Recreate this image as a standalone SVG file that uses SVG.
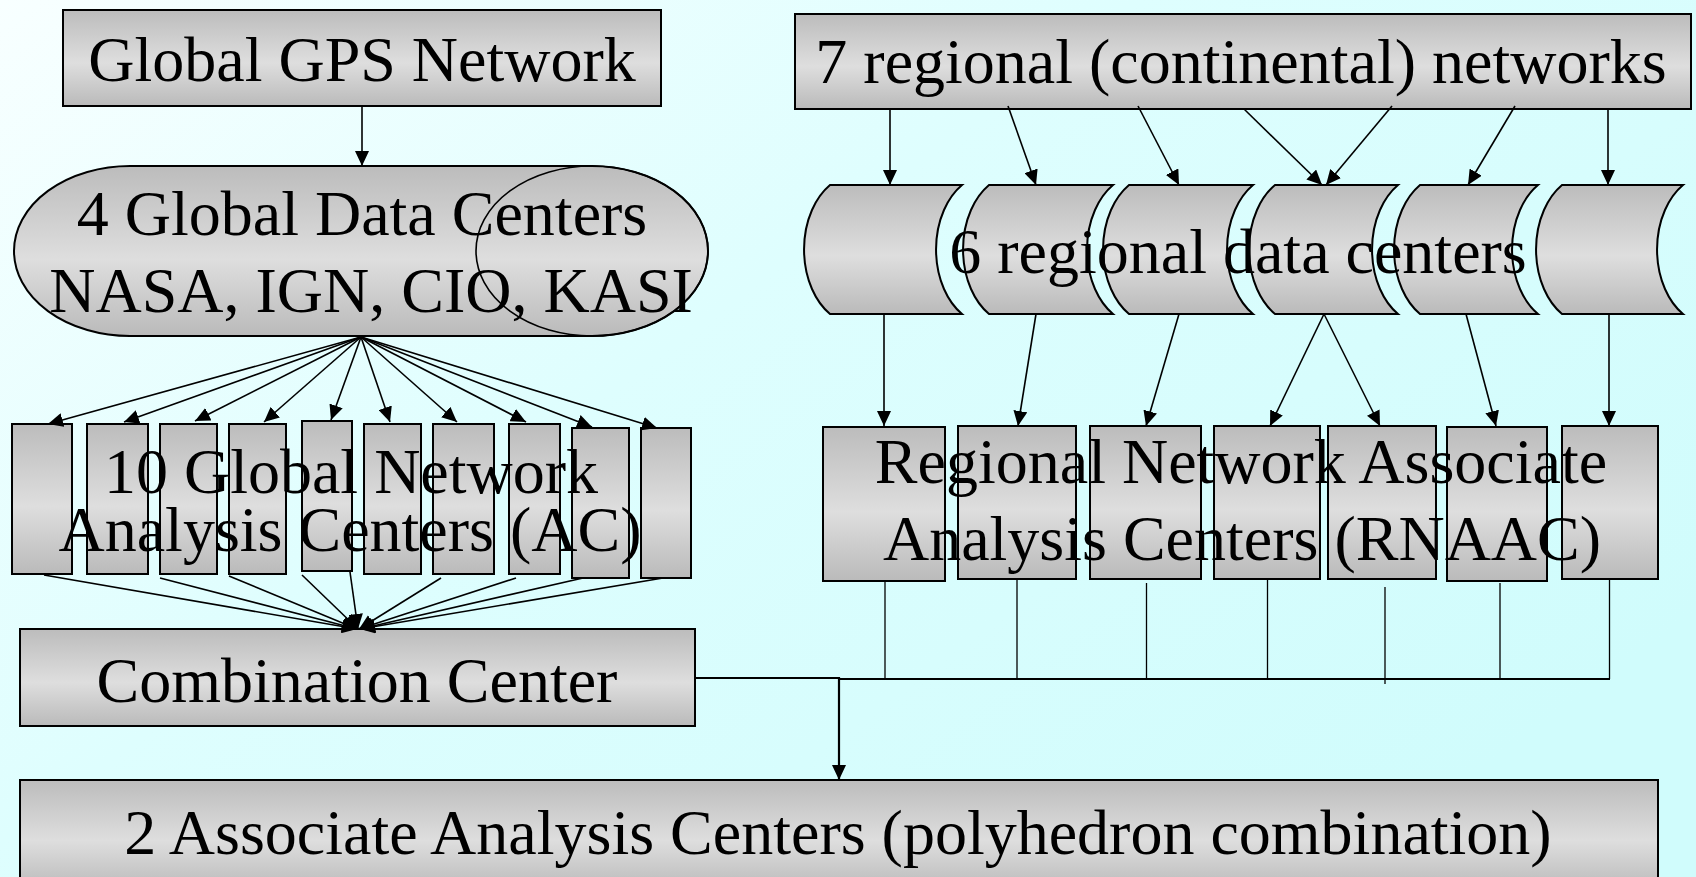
<svg xmlns="http://www.w3.org/2000/svg" width="1696" height="877" viewBox="0 0 1696 877">
  <defs>
    <linearGradient id="bg" x1="0" y1="0" x2="1" y2="0.7">
      <stop offset="0" stop-color="#f8ffff"/>
      <stop offset="0.45" stop-color="#defefe"/>
      <stop offset="1" stop-color="#d0fcfc"/>
    </linearGradient>
    <linearGradient id="metal" x1="0" y1="0" x2="0" y2="1">
      <stop offset="0" stop-color="#bcbcbc"/>
      <stop offset="0.55" stop-color="#dedede"/>
      <stop offset="1" stop-color="#bababa"/>
    </linearGradient>
    <marker id="arrow" markerUnits="userSpaceOnUse" markerWidth="15" markerHeight="14" refX="15" refY="7" orient="auto" viewBox="0 0 15 14">
      <path d="M0,0 L15,7 L0,14 Z" fill="#000"/>
    </marker>
    <style>
      .box { fill: url(#metal); stroke: #000; stroke-width: 2; }
      .outline { fill: none; stroke: #000; stroke-width: 1.6; }
      .lbl { font-family: "Liberation Serif", "Times New Roman", serif; font-size: 64px; fill: #000; text-anchor: middle; }
      .edge { fill: none; stroke: #000; stroke-width: 1.6; }
      .arr { marker-end: url(#arrow); }
      .thin { fill: none; stroke: #000; stroke-width: 1.3; }
      .bus { fill: none; stroke: #000; stroke-width: 2.2; }
    </style>
  </defs>

  <rect x="0" y="0" width="1696" height="877" fill="url(#bg)"/>

  <!-- global branch -->
  <g id="global-gps-network">
    <rect class="box" x="63" y="10" width="598" height="96"/>
    <text class="lbl" x="362" y="81">Global GPS Network</text>
  </g>

  <g id="global-data-centers">
    <path class="box" d="M130,166 H592 A116,85 0 0 1 592,336 H130 A116,85 0 0 1 130,166 Z"/>
    <ellipse class="outline" cx="592" cy="251" rx="116" ry="85"/>
    <text class="lbl" x="362" y="235">4 Global Data Centers</text>
    <text class="lbl" x="371" y="312">NASA, IGN, CIO, KASI</text>
  </g>

  <g id="global-analysis-centers">
    <rect class="box" x="12" y="424" width="60" height="150"/>
    <rect class="box" x="87" y="424" width="61" height="150"/>
    <rect class="box" x="160" y="424" width="57" height="150"/>
    <rect class="box" x="229" y="424" width="57" height="150"/>
    <rect class="box" x="302" y="421" width="50" height="150"/>
    <rect class="box" x="364" y="424" width="57" height="150"/>
    <rect class="box" x="433" y="424" width="61" height="150"/>
    <rect class="box" x="509" y="424" width="51" height="150"/>
    <rect class="box" x="572" y="428" width="57" height="150"/>
    <rect class="box" x="641" y="428" width="50" height="150"/>
    <text class="lbl" x="351" y="493">10 Global Network</text>
    <text class="lbl" x="350" y="551">Analysis Centers (AC)</text>
  </g>

  <g id="combination-center">
    <rect class="box" x="20" y="629" width="675" height="97"/>
    <text class="lbl" x="357" y="702">Combination Center</text>
  </g>

  <!-- regional branch -->
  <g id="regional-networks">
    <rect class="box" x="795" y="14" width="896" height="95"/>
    <text class="lbl" x="1241" y="83">7 regional (continental) networks</text>
  </g>

  <g id="regional-data-centers">
    <path class="box" d="M830,185 H962 A53,75 0 0 0 962,314 H830 A53,75 0 0 1 830,185 Z"/>
    <path class="box" d="M989,185 H1113 A53,75 0 0 0 1113,314 H989 A53,75 0 0 1 989,185 Z"/>
    <path class="box" d="M1129,185 H1253 A53,75 0 0 0 1253,314 H1129 A53,75 0 0 1 1129,185 Z"/>
    <path class="box" d="M1275,185 H1398 A53,75 0 0 0 1398,314 H1275 A53,75 0 0 1 1275,185 Z"/>
    <path class="box" d="M1420,185 H1538 A53,75 0 0 0 1538,314 H1420 A53,75 0 0 1 1420,185 Z"/>
    <path class="box" d="M1562,185 H1683 A53,75 0 0 0 1683,314 H1562 A53,75 0 0 1 1562,185 Z"/>
    <text class="lbl" x="1238" y="273">6 regional data centers</text>
  </g>

  <g id="rnaac">
    <rect class="box" x="823" y="427" width="122" height="154"/>
    <rect class="box" x="958" y="426" width="118" height="153"/>
    <rect class="box" x="1090" y="426" width="111" height="153"/>
    <rect class="box" x="1214" y="426" width="106" height="153"/>
    <rect class="box" x="1328" y="426" width="108" height="153"/>
    <rect class="box" x="1447" y="427" width="100" height="154"/>
    <rect class="box" x="1562" y="426" width="96" height="153"/>
    <text class="lbl" x="1241" y="483">Regional Network Associate</text>
    <text class="lbl" x="1242" y="560">Analysis Centers (RNAAC)</text>
  </g>

  <g id="associate-analysis-centers">
    <rect class="box" x="20" y="780" width="1638" height="110"/>
    <text class="lbl" x="838" y="854">2 Associate Analysis Centers (polyhedron combination)</text>
  </g>

  <!-- connectors -->
  <g id="connectors">
    <line class="edge arr" x1="362" y1="106" x2="362" y2="166"/>

    <!-- data centers fan out to the 10 ACs -->
    <line class="edge arr" x1="361" y1="337" x2="48" y2="424"/>
    <line class="edge arr" x1="361" y1="337" x2="124" y2="422"/>
    <line class="edge arr" x1="361" y1="337" x2="195" y2="421"/>
    <line class="edge arr" x1="361" y1="337" x2="264" y2="422"/>
    <line class="edge arr" x1="361" y1="337" x2="331" y2="420"/>
    <line class="edge arr" x1="361" y1="337" x2="390" y2="422"/>
    <line class="edge arr" x1="361" y1="337" x2="457" y2="422"/>
    <line class="edge arr" x1="361" y1="337" x2="526" y2="422"/>
    <line class="edge arr" x1="361" y1="337" x2="592" y2="427"/>
    <line class="edge arr" x1="361" y1="337" x2="657" y2="428"/>

    <!-- ACs converge on the combination center -->
    <line class="edge arr" x1="44" y1="575" x2="357" y2="629"/>
    <line class="edge arr" x1="160" y1="578" x2="357" y2="629"/>
    <line class="edge arr" x1="229" y1="576" x2="357" y2="629"/>
    <line class="edge arr" x1="302" y1="575" x2="358" y2="629"/>
    <line class="edge arr" x1="350" y1="572" x2="358" y2="629"/>
    <line class="edge arr" x1="441" y1="578" x2="359" y2="629"/>
    <line class="edge arr" x1="516" y1="578" x2="359" y2="629"/>
    <line class="edge arr" x1="583" y1="578" x2="360" y2="629"/>
    <line class="edge arr" x1="663" y1="578" x2="360" y2="629"/>

    <!-- regional networks to data centers -->
    <line class="edge arr" x1="890" y1="109" x2="890" y2="185"/>
    <line class="edge arr" x1="1008" y1="106" x2="1036" y2="185"/>
    <line class="edge arr" x1="1138" y1="106" x2="1179" y2="185"/>
    <line class="edge arr" x1="1244" y1="109" x2="1322" y2="185"/>
    <line class="edge arr" x1="1392" y1="106" x2="1326" y2="185"/>
    <line class="edge arr" x1="1515" y1="106" x2="1468" y2="185"/>
    <line class="edge arr" x1="1608" y1="109" x2="1608" y2="185"/>

    <!-- data centers to RNAACs -->
    <line class="edge arr" x1="884" y1="314" x2="884" y2="426"/>
    <line class="edge arr" x1="1036" y1="314" x2="1018" y2="426"/>
    <line class="edge arr" x1="1179" y1="314" x2="1146" y2="426"/>
    <line class="edge arr" x1="1324" y1="314" x2="1270" y2="426"/>
    <line class="edge arr" x1="1324" y1="314" x2="1380" y2="426"/>
    <line class="edge arr" x1="1466" y1="314" x2="1496" y2="426"/>
    <line class="edge arr" x1="1609" y1="314" x2="1609" y2="426"/>

    <!-- RNAAC drops onto the collector bus -->
    <line class="thin" x1="885" y1="581" x2="885" y2="679"/>
    <line class="thin" x1="1017" y1="579" x2="1017" y2="679"/>
    <line class="thin" x1="1146.5" y1="583" x2="1146.5" y2="679"/>
    <line class="thin" x1="1267.5" y1="579" x2="1267.5" y2="679"/>
    <line class="thin" x1="1385" y1="587" x2="1385" y2="684"/>
    <line class="thin" x1="1500" y1="583" x2="1500" y2="679"/>
    <line class="thin" x1="1609.5" y1="579" x2="1609.5" y2="679"/>
    <line class="bus" x1="840" y1="679" x2="1610" y2="679"/>

    <!-- combination center and bus feed the associate centers -->
    <polyline class="bus arr" points="695,678 839,678 839,780"/>
  </g>
</svg>
